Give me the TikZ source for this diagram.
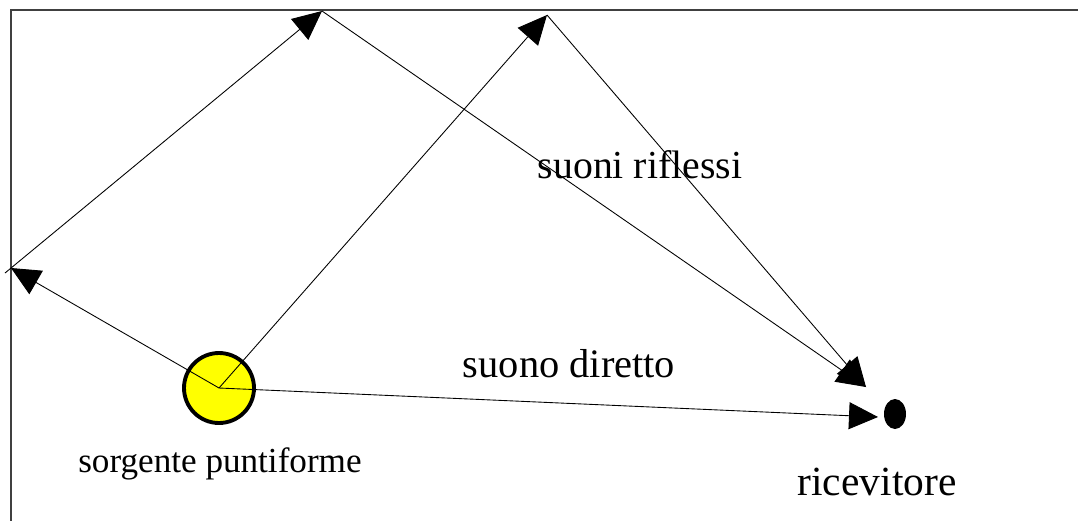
\documentclass[tikz,border=0pt]{standalone}
\usepackage{fontspec}
\setmainfont{Liberation Serif}
\usetikzlibrary{positioning,arrows.meta,shapes.geometric}
\definecolor{sun}{HTML}{FFFF00}
\definecolor{frame}{HTML}{404040}

\begin{document}
\begin{tikzpicture}[x=0.2mm,y=-0.2mm,ray/.style={line width=.5pt,-{Triangle[length=5.8mm,width=5.4mm]}},lbl/.style={inner sep=0pt,anchor=base}]
\useasboundingbox (0,0) rectangle (1078,520);
\clip (0,0) rectangle (1078,520);
\draw[frame,line width=1.1pt] (11,10) rectangle (1100,540);
\node[circle,draw,line width=2.2pt,fill=sun,minimum size=14mm,inner sep=0pt] (src) at (219,388) {};
\node[ellipse,fill=black,minimum width=4.4mm,minimum height=6mm,inner sep=0pt] (rcv) at (895,414) {};
\coordinate (wl) at (11,268);\coordinate (t1) at (322,11);\coordinate (t2) at (547,15);
\coordinate (hit) at (866,387);\coordinate (dir) at (878,417);
\draw[ray] (src.center)--(wl);\draw[ray] (5,273)--(t1);\draw[ray] (t1)--(hit);
\draw[ray] (src.center)--(t2);\draw[ray] (t2)--(hit);
\draw[ray] (src.center)--(dir);
\node[lbl,font=\fontsize{22.6}{24}\selectfont] (refl) at (640,178) {suoni riflessi};
\node[lbl,font=\fontsize{23}{24}\selectfont] (direct) at (569,377) {suono diretto};
\node[lbl,font=\fontsize{20}{22}\selectfont] (srclbl) at (220,472) {sorgente puntiforme};
\node[lbl,font=\fontsize{23.6}{25}\selectfont] (rcvlbl) at (877,495) {ricevitore};
\end{tikzpicture}
\end{document}
